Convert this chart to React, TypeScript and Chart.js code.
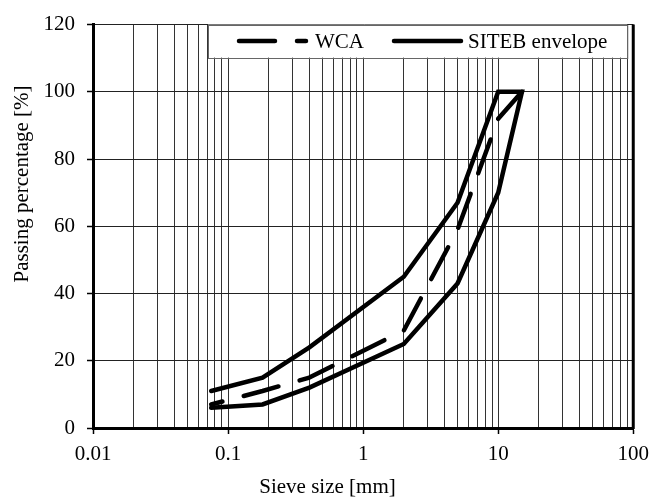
import React, { useEffect, useRef } from 'react';
import { Chart, registerables } from 'chart.js';

Chart.register(...registerables);

// ---- data ----
const sieveSizes = [0.075, 0.18, 0.4, 2, 5, 10, 15];
const wcaPassing = [7, 11, 15, 29, 59, 92, 100];
const upperPassing = [11, 15, 24, 45, 67, 100, 100];
const lowerPassing = [6, 7, 12, 25, 43, 70, 100];
const seriesLabels = ['WCA', 'SITEB envelope'];
const xMajorTicks = [0.01, 0.1, 1, 10, 100];
const yTickValues = [0, 20, 40, 60, 80, 100, 120];
const xTitle = 'Sieve size [mm]';
const yTitle = 'Passing percentage [%]';

const FONT = '"Liberation Serif", "Times New Roman", serif';
const FONT_SIZE = 21;

const isMajor = (v: number) => xMajorTicks.some((m) => Math.abs(v - m) / m < 1e-6);

// WCA drawn from the coarse end downwards (dash phase starts at the top, as in the reference)
const wcaData = sieveSizes.map((x, i) => ({ x, y: wcaPassing[i] })).reverse();
const envelopeData = sieveSizes
  .map((x, i) => ({ x, y: upperPassing[i] }))
  .concat(
    sieveSizes
      .slice(0, -1)
      .map((x, i) => ({ x, y: lowerPassing[i] }))
      .reverse()
  );

const WCA_DASH = [36, 22];

const customPlugin = {
  id: 'customDecor',
  afterDatasetsDraw(chart: any) {
    const ctx = chart.ctx as CanvasRenderingContext2D;
    const { left, top, right, bottom } = chart.chartArea;
    ctx.save();
    // right border of plot area
    ctx.strokeStyle = '#000';
    ctx.lineWidth = 3;
    ctx.beginPath();
    ctx.moveTo(right, top);
    ctx.lineTo(right, bottom + 1);
    ctx.stroke();

    // legend box inside plot
    const x0 = left + 115;
    const y0 = top;
    const x1 = right - 6;
    const y1 = top + 33;
    ctx.fillStyle = '#fff';
    ctx.fillRect(x0, y0, x1 - x0, y1 - y0);
    ctx.strokeStyle = '#666';
    ctx.lineWidth = 1;
    ctx.strokeRect(Math.round(x0) + 0.5, Math.round(y0) + 0.5, x1 - x0, y1 - y0);

    const ly = top + 16.5;
    const ds = chart.data.datasets;
    // WCA sample
    ctx.strokeStyle = '#000';
    ctx.lineWidth = 4.5;
    ctx.lineCap = 'round';
    ctx.setLineDash(WCA_DASH);
    ctx.beginPath();
    ctx.moveTo(x0 + 31, ly);
    ctx.lineTo(x0 + 98, ly);
    ctx.stroke();
    ctx.setLineDash([]);
    // envelope sample
    ctx.beginPath();
    ctx.moveTo(x0 + 186, ly);
    ctx.lineTo(x0 + 253, ly);
    ctx.stroke();

    ctx.fillStyle = '#000';
    ctx.font = `${FONT_SIZE}px ${FONT}`;
    ctx.textBaseline = 'middle';
    ctx.textAlign = 'left';
    ctx.fillText(ds[0].label, x0 + 107, ly + 1);
    ctx.fillText(ds[1].label, x0 + 260, ly + 1);
    ctx.restore();
  },
  afterDraw(chart: any) {
    const ctx = chart.ctx as CanvasRenderingContext2D;
    const { top, bottom } = chart.chartArea;
    ctx.save();
    ctx.fillStyle = '#000';
    ctx.font = `${FONT_SIZE}px ${FONT}`;
    ctx.textAlign = 'center';
    ctx.textBaseline = 'middle';
    // x title
    ctx.fillText(xTitle, chart.width / 2 - 1, bottom + 59);
    // y title
    ctx.translate(22, top + (bottom - top) * 0.395);
    ctx.rotate(-Math.PI / 2);
    ctx.fillText(yTitle, 0, 0);
    ctx.restore();
  },
};

export default function App() {
  const canvasRef = useRef<HTMLCanvasElement | null>(null);

  useEffect(() => {
    if (!canvasRef.current) return;
    const chart = new Chart(canvasRef.current, {
      type: 'line',
      data: {
        datasets: [
          {
            label: seriesLabels[0],
            data: wcaData,
            borderColor: '#000',
            backgroundColor: '#000',
            borderWidth: 4.5,
            borderDash: WCA_DASH,
            borderCapStyle: 'round',
            borderJoinStyle: 'round',
            pointRadius: 0,
            tension: 0,
            fill: false,
          },
          {
            label: seriesLabels[1],
            data: envelopeData,
            borderColor: '#000',
            backgroundColor: '#000',
            borderWidth: 4.5,
            borderCapStyle: 'round',
            borderJoinStyle: 'miter',
            pointRadius: 0,
            tension: 0,
            fill: false,
          },
        ],
      },
      options: {
        responsive: false,
        animation: false,
        layout: { padding: { top: 20, right: 21, left: 0, bottom: 0 } },
        plugins: {
          legend: { display: false },
          tooltip: { enabled: false },
          title: { display: false },
        },
        scales: {
          x: {
            type: 'logarithmic',
            min: 0.01,
            max: 100,
            afterBuildTicks: (scale: any) => {
              const ticks: { value: number }[] = [];
              for (let e = -2; e <= 1; e++) {
                for (let d = 1; d <= 9; d++) {
                  ticks.push({ value: Number((d * Math.pow(10, e)).toPrecision(4)) });
                }
              }
              ticks.push({ value: 100 });
              scale.ticks = ticks;
            },
            afterFit: (scale: any) => {
              scale.height = 70;
            },
            ticks: {
              autoSkip: false,
              maxRotation: 0,
              padding: 8,
              color: '#000',
              font: { family: FONT, size: FONT_SIZE },
              callback: (value: any) => (isMajor(Number(value)) ? String(value) : ''),
            },
            grid: {
              color: '#333',
              lineWidth: 1,
              drawTicks: true,
              tickLength: 6,
              tickWidth: 1.5,
              tickColor: (c: any) => (c.tick && isMajor(c.tick.value) ? '#000' : 'rgba(0,0,0,0)'),
            },
            border: { display: true, color: '#000', width: 3 },
          },
          y: {
            type: 'linear',
            min: 0,
            max: 120,
            afterBuildTicks: (scale: any) => {
              scale.ticks = yTickValues.map((v) => ({ value: v }));
            },
            afterFit: (scale: any) => {
              scale.width = 93;
            },
            ticks: {
              padding: 12,
              color: '#000',
              font: { family: FONT, size: FONT_SIZE },
            },
            grid: {
              color: '#222',
              lineWidth: 1,
              drawTicks: true,
              tickLength: 6,
              tickWidth: 1.5,
              tickColor: '#000',
            },
            border: { display: true, color: '#000', width: 3 },
          },
        },
      },
      plugins: [customPlugin],
    } as any);
    return () => chart.destroy();
  }, []);

  return (
    <div style={{ position: 'absolute', left: 0, top: 0, width: 657, height: 498, background: '#fff' }}>
      <canvas ref={canvasRef} width={657} height={498} style={{ display: 'block' }} />
    </div>
  );
}
